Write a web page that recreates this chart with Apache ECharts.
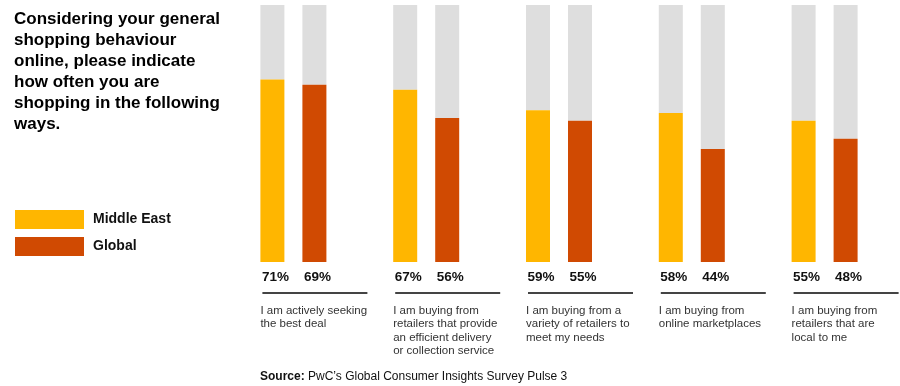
<!DOCTYPE html>
<html><head><meta charset="utf-8">
<script src="https://cdn.jsdelivr.net/npm/echarts@6/dist/echarts.min.js"></script>
<style>html,body{margin:0;padding:0;background:#fff}#c{width:900px;height:386px}</style>
</head><body><div id="c"></div>
<script>
const categories = [
  "I am actively seeking\nthe best deal",
  "I am buying from\nretailers that provide\nan efficient delivery\nor collection service",
  "I am buying from a\nvariety of retailers to\nmeet my needs",
  "I am buying from\nonline marketplaces",
  "I am buying from\nretailers that are\nlocal to me"
];
const middleEast = [71, 67, 59, 58, 55];
const globalVals = [69, 56, 55, 44, 48];
const seriesNames = ["Middle East", "Global"];
const titleText = "Considering your general\nshopping behaviour\nonline, please indicate\nhow often you are\nshopping in the following\nways.";

const FONT = "Liberation Sans, Arial, sans-serif";
const YEL = "#FFB600", RED = "#D04A02", GREY = "#DEDEDE";
const chart = echarts.init(document.getElementById('c'), null, {renderer: 'canvas'});

function valueSeries(name, data, color, stack) {
  return {
    name, type: 'bar', stack, data, barWidth: 24, barGap: '75%',
    itemStyle: {color},
    label: {show: true, position: 'bottom', distance: 8, offset: [3, 0], formatter: '{c}%',
      color: '#111', fontWeight: 'bold', fontSize: 13.5, fontFamily: FONT},
    z: 3
  };
}
function restSeries(name, data, stack) {
  return {
    name, type: 'bar', stack, data: data.map(v => 100 - v), barWidth: 24, barGap: '75%',
    itemStyle: {color: GREY}, silent: true
  };
}

const option = {
  animation: false,
  textStyle: {fontFamily: FONT},
  title: [
    {text: titleText, left: 14, top: 9, padding: 0,
      textStyle: {fontSize: 17, fontWeight: 'bold', color: '#000', lineHeight: 21, fontFamily: FONT}},
    {text: '{b|Source:} PwC\u2019s Global Consumer Insights Survey Pulse 3', left: 260, top: 371, padding: 0,
      textStyle: {fontSize: 12, fontWeight: 'normal', color: '#111', fontFamily: FONT,
        rich: {b: {fontWeight: 'bold', fontSize: 12, color: '#111', fontFamily: FONT}}}}
  ],
  legend: {
    orient: 'vertical', left: 15, top: 210, padding: 0, itemWidth: 69, itemHeight: 19, itemGap: 8,
    icon: 'rect', data: seriesNames, selectedMode: false,
    textStyle: {fontSize: 14, fontWeight: 'bold', color: '#111', fontFamily: FONT, padding: [0, 0, 0, 4]}
  },
  grid: {left: 227, right: 9, top: 5, bottom: 124},
  xAxis: {
    type: 'category', data: categories,
    axisLine: {show: false}, axisTick: {show: false},
    axisLabel: {margin: 42, align: 'left', padding: [0, 0, 0, -33], fontSize: 11.5, lineHeight: 13.5,
      color: '#333', fontFamily: FONT, interval: 0}
  },
  yAxis: {type: 'value', min: 0, max: 100, show: false},
  series: [
    valueSeries(seriesNames[0], middleEast, YEL, 'me'),
    restSeries('me-rest', middleEast, 'me'),
    valueSeries(seriesNames[1], globalVals, RED, 'gl'),
    restSeries('gl-rest', globalVals, 'gl')
  ]
};
chart.setOption(option);

// separator lines under percentage labels, positioned from the category scale
const lines = categories.map((c, i) => {
  const x = chart.convertToPixel({xAxisIndex: 0}, i);
  const y = chart.convertToPixel({yAxisIndex: 0}, 0);
  return {type: 'line', silent: true,
    shape: {x1: x - 31, y1: y + 31, x2: x + 74, y2: y + 31},
    style: {stroke: '#444', lineWidth: 2}};
});
chart.setOption({graphic: lines});
</script></body></html>
